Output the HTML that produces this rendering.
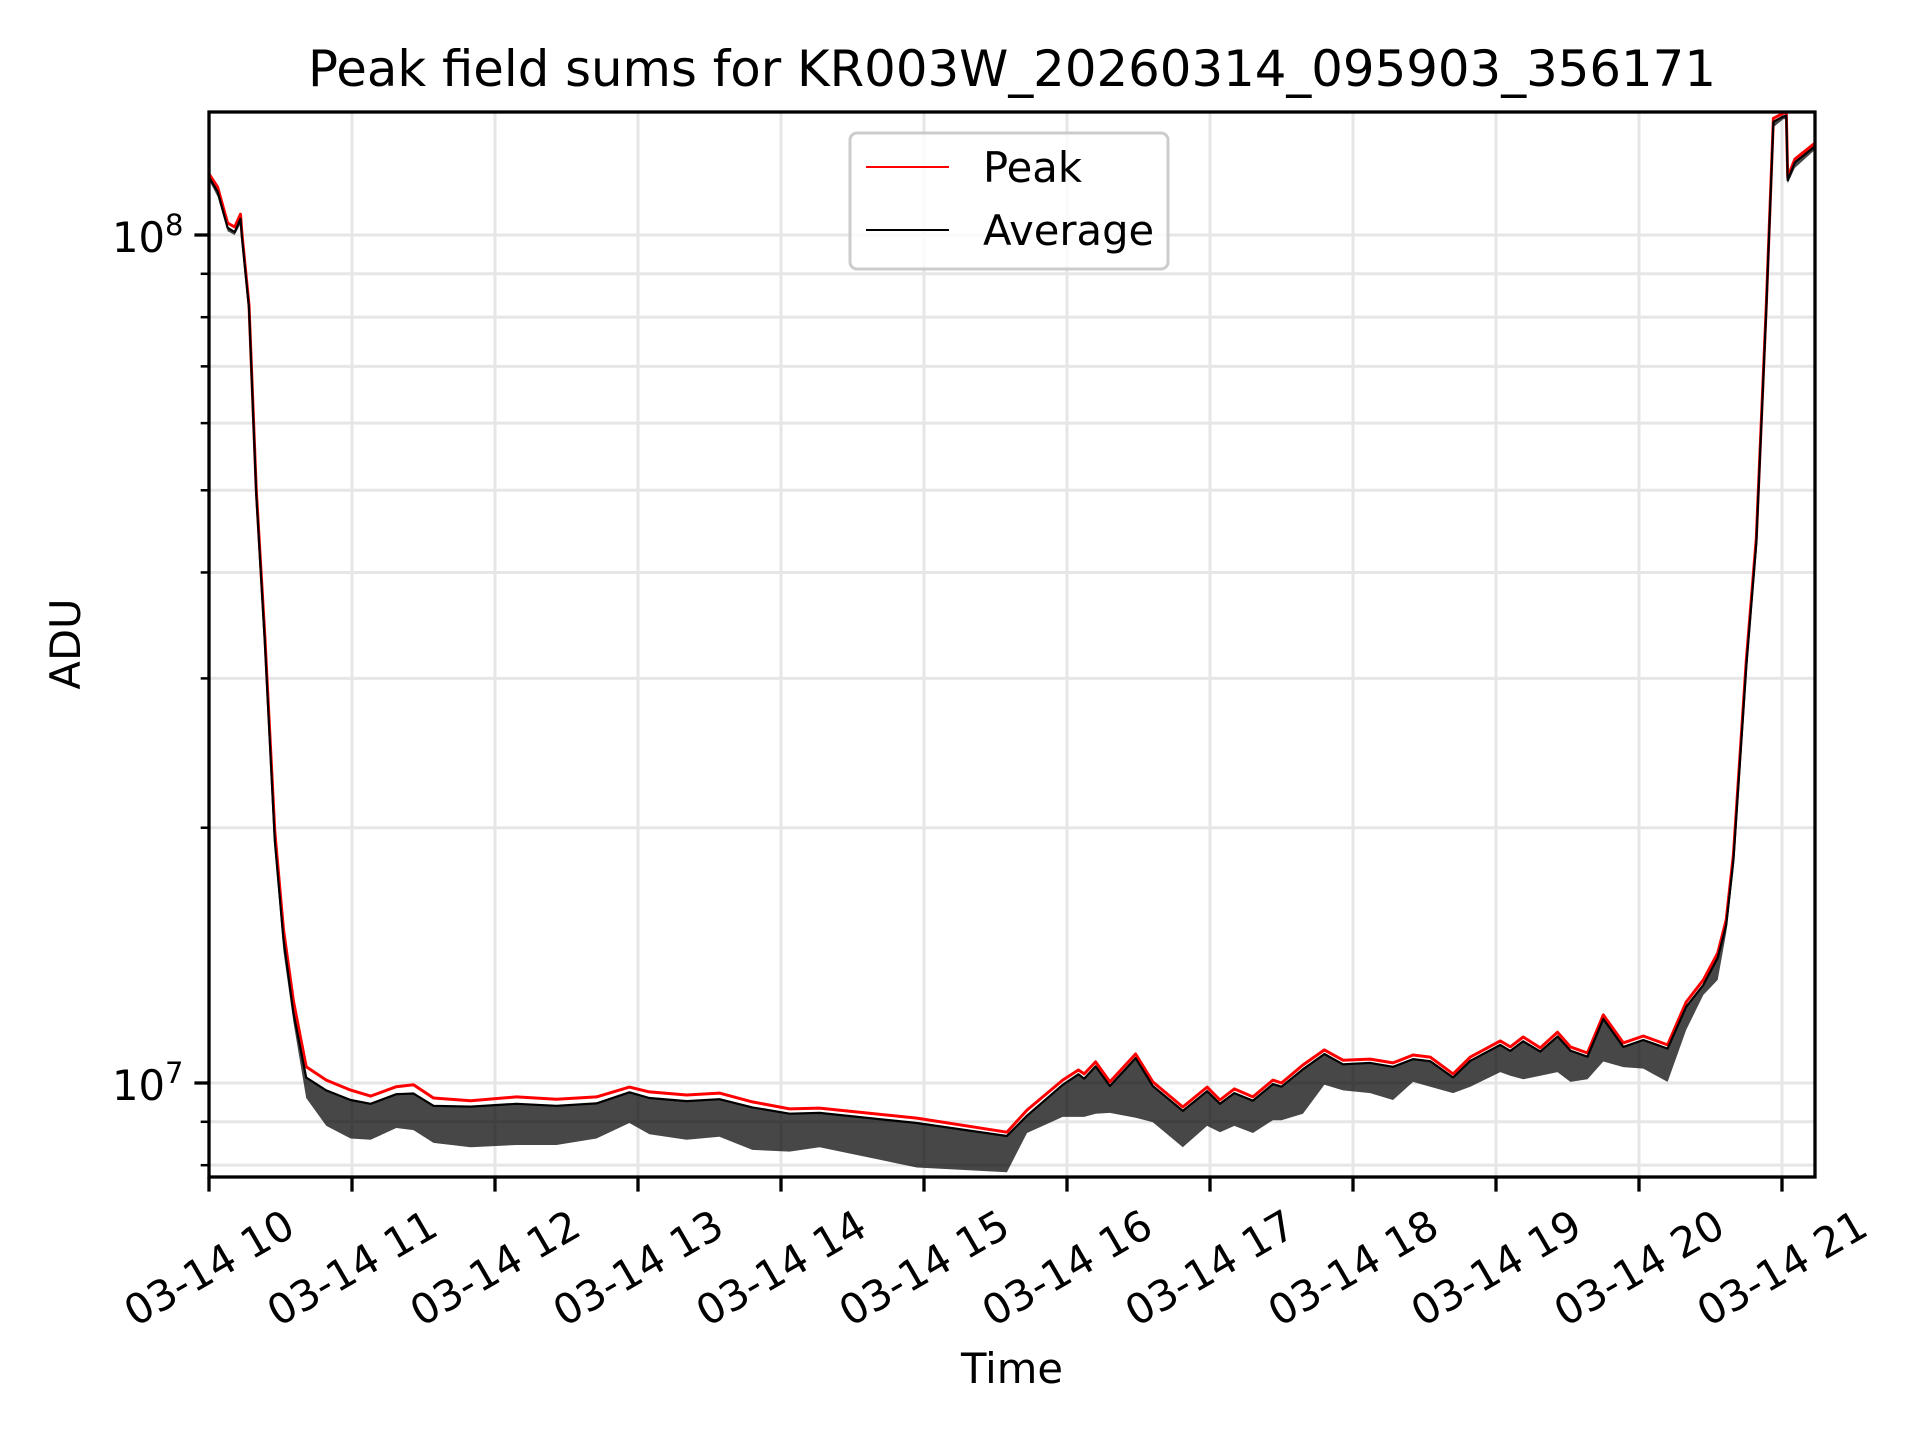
<!DOCTYPE html>
<html><head><meta charset="utf-8"><title>Peak field sums</title>
<style>html,body{margin:0;padding:0;background:#fff}svg{display:block}text{font-family:"DejaVu Sans","Liberation Sans",sans-serif;fill:#000}</style>
</head><body>
<svg id="chart" width="1920" height="1440" viewBox="0 0 1920 1440" xmlns="http://www.w3.org/2000/svg">
<rect width="1920" height="1440" fill="#fff"/>
<g id="grid"></g>
<g id="series"></g>
<g id="axes"></g>
<text x="1012" y="86" font-size="50" text-anchor="middle" textLength="1408" lengthAdjust="spacingAndGlyphs">Peak field sums for KR003W_20260314_095903_356171</text>
<text x="1012" y="1383" font-size="41.7" text-anchor="middle">Time</text>
<text transform="translate(80,644) rotate(-90)" font-size="41.7" text-anchor="middle">ADU</text>
<g>
<rect x="850" y="133" width="318" height="136" rx="7" fill="#fff" fill-opacity="0.8" stroke="#cccccc" stroke-width="3"/>
<line x1="866" y1="167" x2="949" y2="167" stroke="#ff0000" stroke-width="2"/>
<text x="983" y="182" font-size="41.7">Peak</text>
<line x1="866" y1="230" x2="949" y2="230" stroke="#000" stroke-width="2"/>
<text x="983" y="245" font-size="41.7">Average</text>
</g>
</svg>
<script>
// hours since 00:00 on 03-14
const hours = [10.00,10.06,10.13,10.18,10.22,10.23,10.28,10.33,10.39,10.46,10.52,10.59,10.68,10.82,10.99,11.13,11.31,11.43,11.57,11.83,
12.15,12.43,12.71,12.94,13.08,13.34,13.57,13.80,14.06,14.27,14.95,15.58,15.72,15.97,16.08,16.12,16.20,16.30,16.48,16.60,
16.81,16.98,17.07,17.17,17.30,17.44,17.50,17.65,17.80,17.93,18.12,18.28,18.42,18.54,18.70,18.82,19.03,19.10,19.19,19.31,
19.43,19.52,19.64,19.75,19.89,20.03,20.20,20.33,20.45,20.55,20.61,20.66,20.75,20.82,20.89,20.94,21.01,21.03,21.04,21.09,21.23];
// values in millions of ADU
const peakValues = [118.0,113.9,103.3,102.2,105.8,100.5,82.7,50.2,33.7,19.8,15.2,12.5,10.45,10.08,9.81,9.65,9.90,9.95,9.60,9.53,
9.63,9.57,9.63,9.89,9.76,9.68,9.73,9.50,9.32,9.34,9.09,8.75,9.29,10.08,10.36,10.25,10.59,10.03,10.82,10.03,
9.37,9.89,9.55,9.84,9.63,10.08,10.0,10.50,10.94,10.64,10.67,10.56,10.79,10.73,10.25,10.73,11.21,11.03,11.33,11.00,
11.48,11.03,10.85,12.03,11.15,11.36,11.09,12.46,13.23,14.23,15.57,18.58,31.5,43.9,82.7,137.3,139.2,139.5,117.0,122.9,128.3];
const averageValues = [117.0,112.5,102.0,100.8,104.5,99.5,82.0,49.6,33.2,19.3,14.8,12.1,10.15,9.80,9.55,9.45,9.70,9.72,9.40,9.38,
9.45,9.40,9.46,9.75,9.60,9.52,9.57,9.36,9.20,9.22,8.97,8.66,9.15,9.95,10.24,10.12,10.46,9.92,10.70,9.92,
9.27,9.78,9.45,9.73,9.53,9.97,9.90,10.38,10.82,10.52,10.56,10.45,10.67,10.61,10.15,10.62,11.09,10.91,11.20,10.89,
11.35,10.92,10.74,11.90,11.03,11.24,10.98,12.30,13.05,14.05,15.35,18.30,31.0,43.3,81.8,136.0,138.0,138.2,116.0,121.8,127.2];
const averageLowValues = [116,111,101,100,103,99,81,49,32.5,18.8,14.3,11.8,9.6,8.9,8.6,8.57,8.85,8.8,8.5,8.4,
8.45,8.45,8.6,8.97,8.7,8.57,8.64,8.34,8.3,8.4,7.95,7.85,8.73,9.12,9.12,9.12,9.2,9.22,9.1,8.99,
8.4,8.9,8.75,8.9,8.73,9.04,9.04,9.2,9.95,9.8,9.73,9.55,10.03,9.9,9.73,9.9,10.3,10.2,10.1,10.2,
10.3,10.03,10.1,10.6,10.44,10.4,10.03,11.55,12.70,13.23,15.04,17.8,30.5,42.5,80,134,137,137,115,120,126];
const xTickHours = [10,11,12,13,14,15,16,17,18,19,20,21];
const xTickLabels = ["03-14 10","03-14 11","03-14 12","03-14 13","03-14 14","03-14 15","03-14 16","03-14 17","03-14 18","03-14 19","03-14 20","03-14 21"];
const yMajorExps = [7,8];
const yMinorValues = [8,9,20,30,40,50,60,70,80,90]; // millions

const NS = "http://www.w3.org/2000/svg";
const L = 209, R = 1815, T = 112, B = 1177;
const xMin = 10, pxPerHour = 143;
const y1e7 = 1083, pxPerDecade = 848;
function xs(h){ return L + (h - xMin) * pxPerHour; }
function ys(vMillions){ return y1e7 - (Math.log10(vMillions * 1e6) - 7) * pxPerDecade; }
function mk(tag, attrs, parent){ const e = document.createElementNS(NS, tag); for (const k in attrs) e.setAttribute(k, attrs[k]); parent.appendChild(e); return e; }

const grid = document.getElementById('grid');
const series = document.getElementById('series');
const axes = document.getElementById('axes');

// clip
const defs = mk('defs', {}, document.getElementById('chart'));
const cp = mk('clipPath', {id:'plotclip'}, defs);
mk('rect', {x:L, y:T, width:R-L, height:B-T}, cp);
series.setAttribute('clip-path', 'url(#plotclip)');

// x grid + ticks
xTickHours.forEach((h, i) => {
  const x = xs(h);
  const g = mk('line', {x1:x, y1:T, x2:x, y2:B, stroke:'#e6e6e6', 'stroke-width':3}, grid);
  
  
  const t = mk('line', {x1:x, y1:B, x2:x, y2:B+14.6, stroke:'#000', 'stroke-width':3.3}, axes);
  
  
  const lab = mk('text', {transform:`translate(${x},1268) rotate(-30)`, 'font-size':41.7, 'text-anchor':'middle', 'dominant-baseline':'central'}, axes);
  lab.textContent = xTickLabels[i];
  
  
});

// y minor grid/ticks
yMinorValues.forEach(v => {
  const y = ys(v);
  if (y < T || y > B) return;
  const g = mk('line', {x1:L, y1:y, x2:R, y2:y, stroke:'#e6e6e6', 'stroke-width':3}, grid);
  
  
  const t = mk('line', {x1:L-8.3, y1:y, x2:L, y2:y, stroke:'#000', 'stroke-width':2.5}, axes);
  
  
});
// y major
yMajorExps.forEach(e => {
  const y = ys(Math.pow(10, e) / 1e6);
  const g = mk('line', {x1:L, y1:y, x2:R, y2:y, stroke:'#e6e6e6', 'stroke-width':3}, grid);
  
  
  const t = mk('line', {x1:L-14.6, y1:y, x2:L, y2:y, stroke:'#000', 'stroke-width':3.3}, axes);
  
  
  const lab = mk('text', {x:112, y:y+17, 'font-size':41.7}, axes);
  
  
  const a = mk('tspan', {}, lab); a.textContent = '10';
  const b = mk('tspan', {'font-size':29, dy:-17}, lab); b.textContent = String(e);
});

// series
const peakPts = hours.map((h,i)=>`${xs(h).toFixed(1)},${ys(peakValues[i]).toFixed(1)}`).join(' ');
const avgPts = hours.map((h,i)=>`${xs(h).toFixed(1)},${ys(averageValues[i]).toFixed(1)}`).join(' ');
const lowPts = hours.slice().reverse().map((h,j)=>{ const i = hours.length-1-j; return `${xs(h).toFixed(1)},${ys(averageLowValues[i]).toFixed(1)}`; }).join(' ');

const peakLine = mk('polyline', {points:peakPts, fill:'none', stroke:'#ff0000', 'stroke-width':3, 'stroke-linejoin':'round'}, series);


const band = mk('polygon', {points: avgPts + ' ' + lowPts, fill:'#000', 'fill-opacity':0.72}, series);


const avgLine = mk('polyline', {points:avgPts, fill:'none', stroke:'#000', 'stroke-width':2.2, 'stroke-linejoin':'round'}, series);



// spines
const frame = mk('rect', {x:L, y:T, width:R-L, height:B-T, fill:'none', stroke:'#000', 'stroke-width':3.3}, axes);


</script>
</body></html>
